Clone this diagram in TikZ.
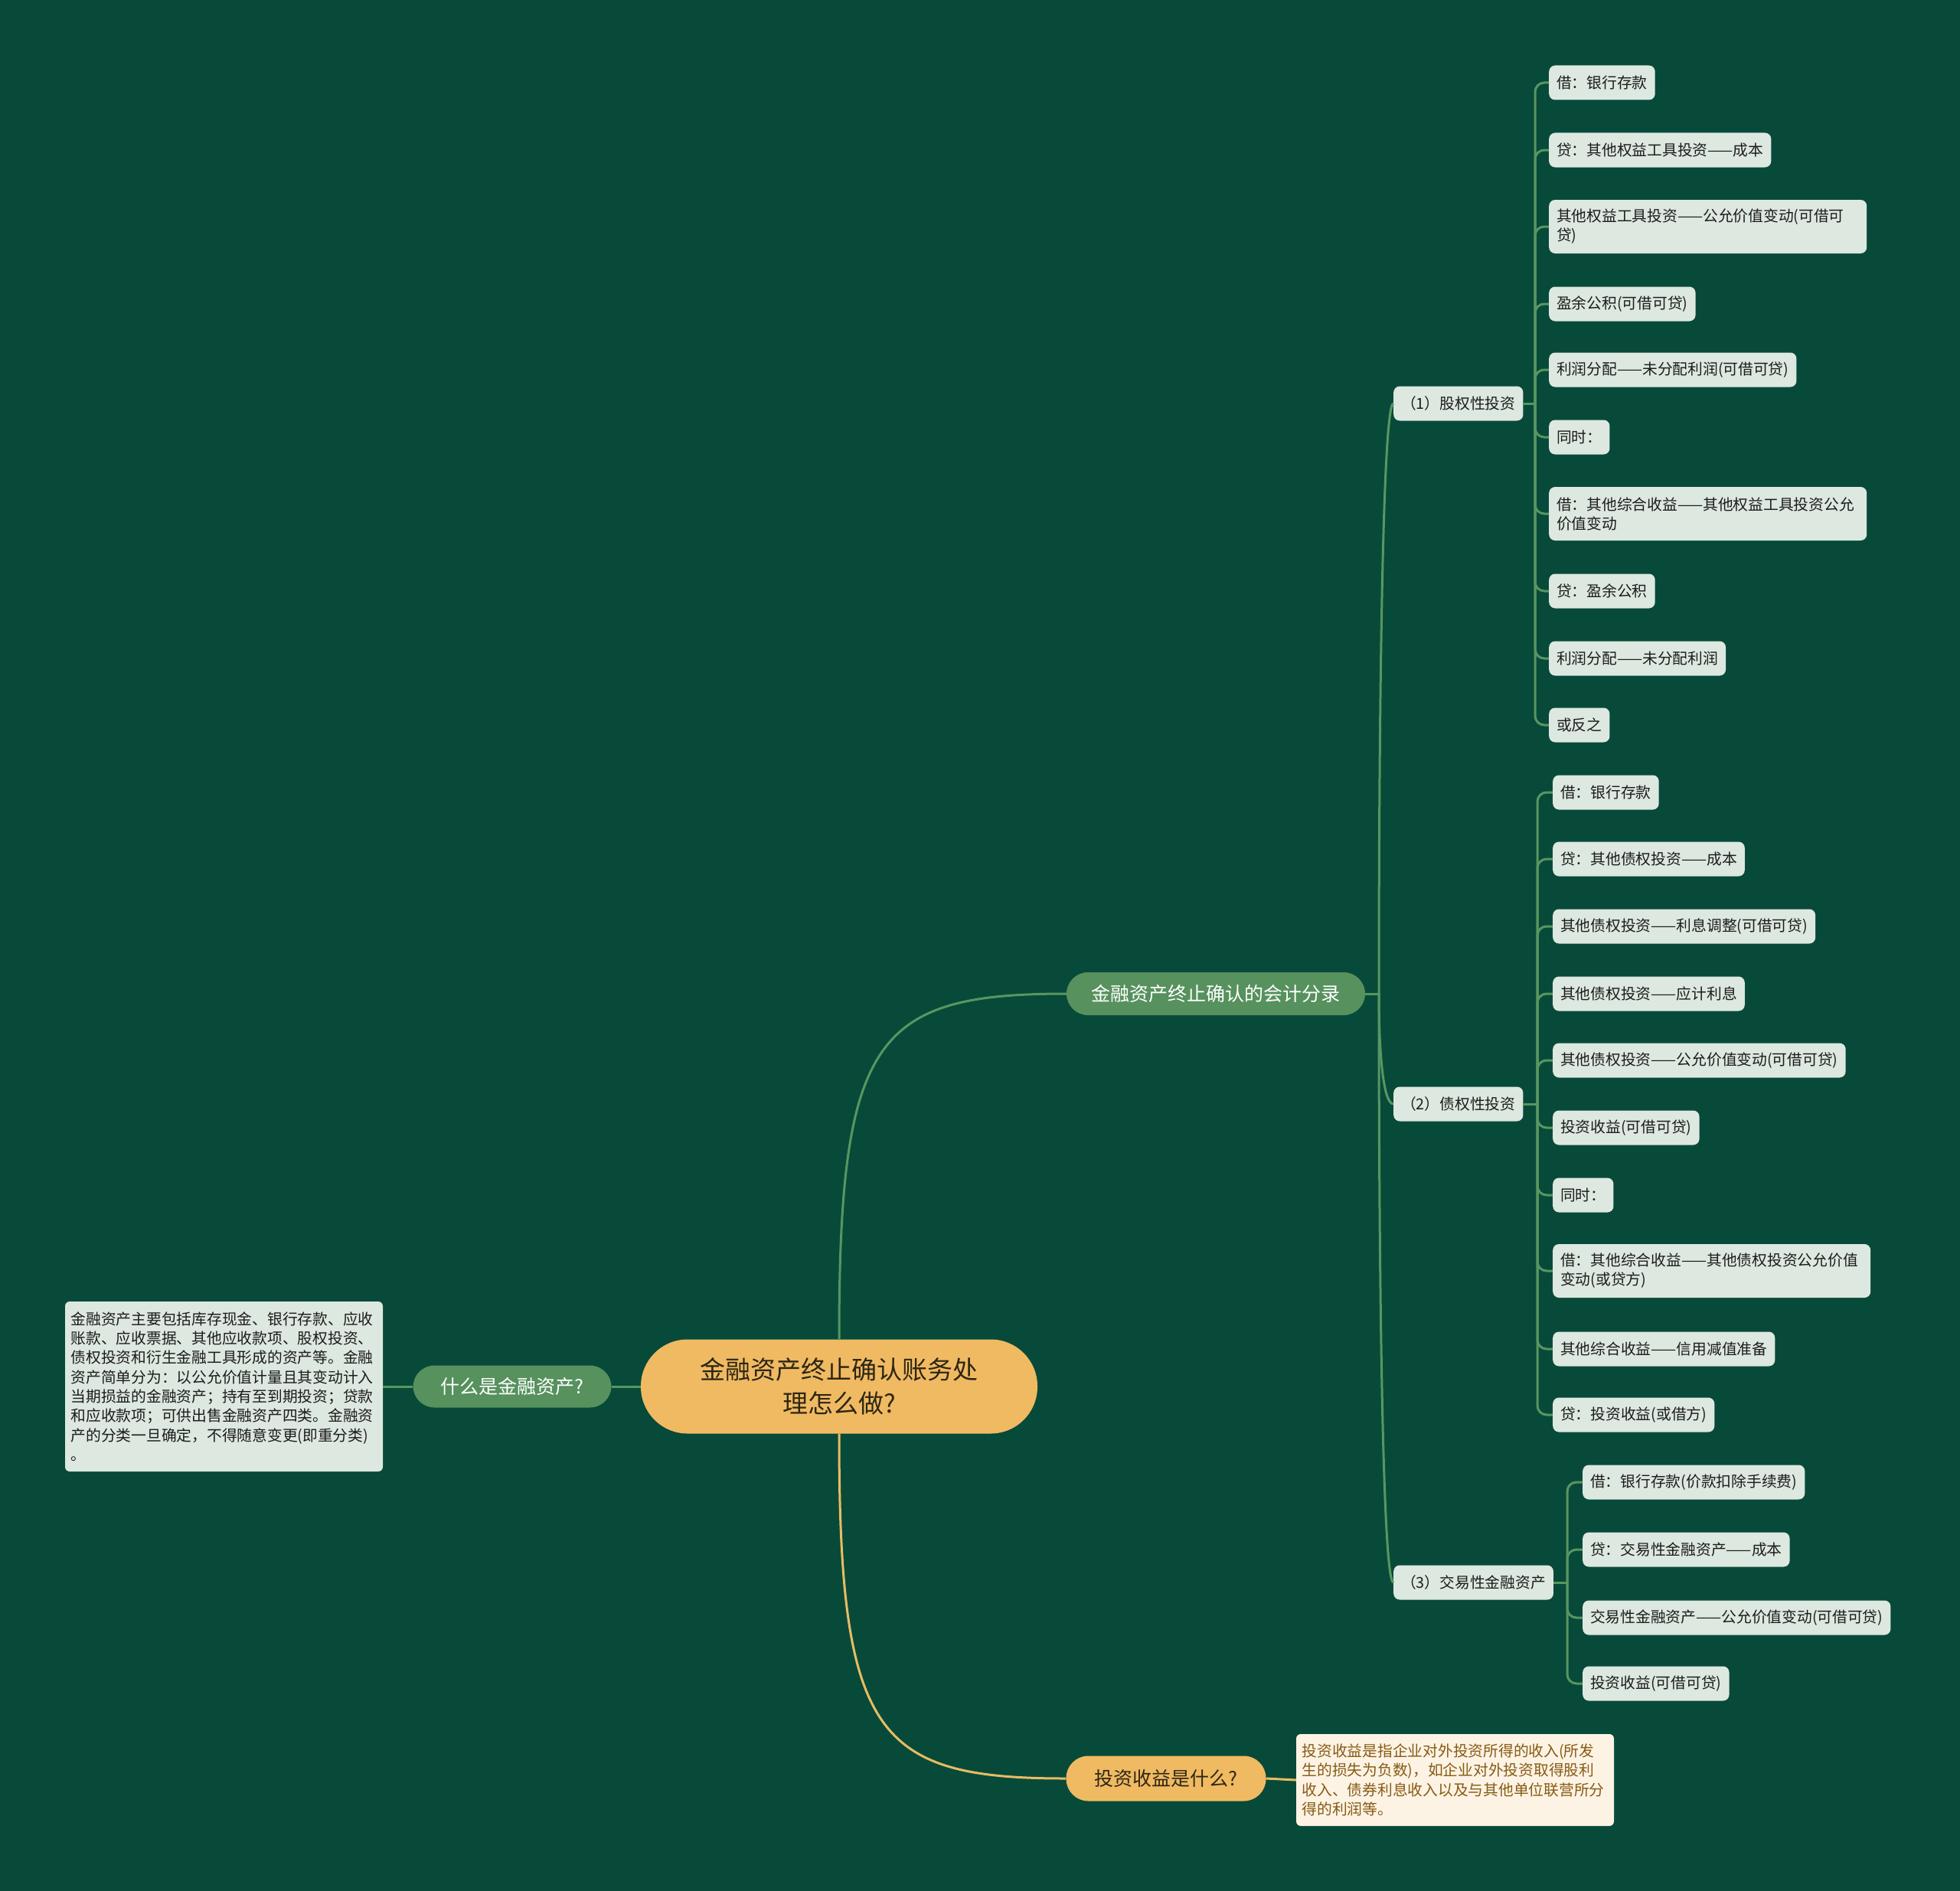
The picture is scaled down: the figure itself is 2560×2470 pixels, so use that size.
\documentclass[tikz,border=0pt]{standalone}
\usepackage{fontspec}
\setmainfont{Noto Sans CJK SC}
\definecolor{bg}{RGB}{8,74,57}
\definecolor{gline}{RGB}{88,150,98}
\definecolor{gnode}{RGB}{86,145,94}
\definecolor{leafc}{RGB}{221,232,224}
\definecolor{ink}{RGB}{28,28,28}
\definecolor{orng}{RGB}{240,186,98}
\definecolor{oline}{RGB}{232,188,100}
\definecolor{cream}{RGB}{252,243,228}
\definecolor{brownt}{RGB}{135,90,20}
\definecolor{rootink}{RGB}{45,38,20}
\tikzset{
  leafbox/.style={anchor=west, fill=leafc, text=ink, rounded corners=8pt, inner xsep=10pt, inner ysep=8pt, minimum height=45pt, font=\fontsize{19.75pt}{25pt}\selectfont, align=left},
  twoline/.style={text width=395pt, minimum height=70pt},
  pillg/.style={fill=gnode, text=white, rounded corners=28pt, minimum height=56pt, inner xsep=0pt, font=\fontsize{25pt}{30pt}\selectfont},
  pillo/.style={fill=orng, text=rootink, rounded corners=29pt, minimum height=59pt, inner xsep=0pt, font=\fontsize{25pt}{30pt}\selectfont},
  gl/.style={draw=gline, line width=3pt},
  ol/.style={draw=oline, line width=3pt},
}
\begin{document}
\begin{tikzpicture}[x=1pt,y=-1pt]
\fill[bg] (0,0) rectangle (2560,2470);
\useasboundingbox (0,0) rectangle (2560,2470);

% root
\node[fill=orng, text=rootink, rounded corners=61pt, minimum width=518pt, minimum height=123pt, inner sep=0pt, align=center, font=\fontsize{33pt}{44pt}\selectfont] (root) at (1096,1811) {金融资产终止确认账务处\\理怎么做?};

% main branches
\node[pillg, minimum width=390pt] (acc) at (1588,1298) {金融资产终止确认的会计分录};
\node[pillg, minimum width=259pt, minimum height=55pt] (what) at (669,1811) {什么是金融资产?};
\node[pillo, minimum width=261pt] (inv) at (1523,2323) {投资收益是什么?};

% text boxes
\node[fill=leafc, text=ink, rounded corners=6pt, inner xsep=7.5pt, inner ysep=8pt, text width=400pt, minimum height=222pt, align=left, font=\fontsize{19.75pt}{25.3pt}\selectfont] (defbox) at (292.5,1811) {金融资产主要包括库存现金、银行存款、应收\\账款、应收票据、其他应收款项、股权投资、\\债权投资和衍生金融工具形成的资产等。金融\\资产简单分为：以公允价值计量且其变动计入\\当期损益的金融资产；持有至到期投资；贷款\\和应收款项；可供出售金融资产四类。金融资\\产的分类一旦确定，不得随意变更(即重分类)\\。};

\node[fill=cream, text=brownt, rounded corners=6pt, inner xsep=7.5pt, inner ysep=8pt, text width=400pt, minimum height=120pt, align=left, font=\fontsize{19.75pt}{25.3pt}\selectfont] (invbox) at (1900.5,2325) {投资收益是指企业对外投资所得的收入(所发\\生的损失为负数)，如企业对外投资取得股利\\收入、债券利息收入以及与其他单位联营所分\\得的利润等。};

% sub nodes
\node[leafbox] (s1) at (1820,527) {（1）股权性投资};
\node[leafbox] (s2) at (1820,1442) {（2）债权性投资};
\node[leafbox] (s3) at (1820,2067) {（3）交易性金融资产};

% leaves (1)
\node[leafbox] (a1) at (2023,108) {借：银行存款};
\node[leafbox] (a2) at (2023,196) {贷：其他权益工具投资——成本};
\node[leafbox, twoline] (a3) at (2023,296) {其他权益工具投资——公允价值变动(可借可\\贷)};
\node[leafbox] (a4) at (2023,397) {盈余公积(可借可贷)};
\node[leafbox] (a5) at (2023,483) {利润分配——未分配利润(可借可贷)};
\node[leafbox] (a6) at (2023,571) {同时：};
\node[leafbox, twoline] (a7) at (2023,671) {借：其他综合收益——其他权益工具投资公允\\价值变动};
\node[leafbox] (a8) at (2023,772) {贷：盈余公积};
\node[leafbox] (a9) at (2023,860) {利润分配——未分配利润};
\node[leafbox] (a10) at (2023,947) {或反之};

% leaves (2)
\node[leafbox] (b1) at (2028,1035) {借：银行存款};
\node[leafbox] (b2) at (2028,1122) {贷：其他债权投资——成本};
\node[leafbox] (b3) at (2028,1210) {其他债权投资——利息调整(可借可贷)};
\node[leafbox] (b4) at (2028,1298) {其他债权投资——应计利息};
\node[leafbox] (b5) at (2028,1385) {其他债权投资——公允价值变动(可借可贷)};
\node[leafbox] (b6) at (2028,1473) {投资收益(可借可贷)};
\node[leafbox] (b7) at (2028,1561) {同时：};
\node[leafbox, twoline] (b8) at (2028,1660) {借：其他综合收益——其他债权投资公允价值\\变动(或贷方)};
\node[leafbox] (b9) at (2028,1762) {其他综合收益——信用减值准备};
\node[leafbox] (b10) at (2028,1848) {贷：投资收益(或借方)};

% leaves (3)
\node[leafbox] (c1) at (2067,1936) {借：银行存款(价款扣除手续费)};
\node[leafbox] (c2) at (2067,2024) {贷：交易性金融资产——成本};
\node[leafbox] (c3) at (2067,2113) {交易性金融资产——公允价值变动(可借可贷)};
\node[leafbox] (c4) at (2067,2199) {投资收益(可借可贷)};

% connectors from root
\draw[gl] (root.north) .. controls (1096,1355) and (1143,1298) .. (acc.west);
\draw[ol] (root.south) .. controls (1096,2266) and (1143,2323) .. (inv.west);
\draw[gl] (root.west) -- (what.east);
\draw[gl] (what.west) -- (defbox.east);
\draw[ol] (inv.east) -- (invbox.west);

% acc to subs
\coordinate (tacc) at (1801,1298);
\draw[gl] (acc.east) -- (tacc);
\draw[gl] (tacc) .. controls (1801,912) and (1806,527) .. (s1.west);
\draw[gl] (tacc) .. controls (1801,1370) and (1806,1442) .. (s2.west);
\draw[gl] (tacc) .. controls (1801,1682) and (1806,2067) .. (s3.west);

% subs to leaves
\coordinate (ta) at (2005,527);
\coordinate (tb) at (2008,1442);
\coordinate (tc) at (2047,2067);
\draw[gl] (s1.east) -- (ta);
\draw[gl] (s2.east) -- (tb);
\draw[gl] (s3.east) -- (tc);
\foreach \n in {a1,a2,a3,a4,a5,a6,a7,a8,a9,a10}
  \draw[gl, rounded corners=12pt] (ta) |- (\n.west);
\foreach \n in {b1,b2,b3,b4,b5,b6,b7,b8,b9,b10}
  \draw[gl, rounded corners=12pt] (tb) |- (\n.west);
\foreach \n in {c1,c2,c3,c4}
  \draw[gl, rounded corners=12pt] (tc) |- (\n.west);
\end{tikzpicture}
\end{document}
